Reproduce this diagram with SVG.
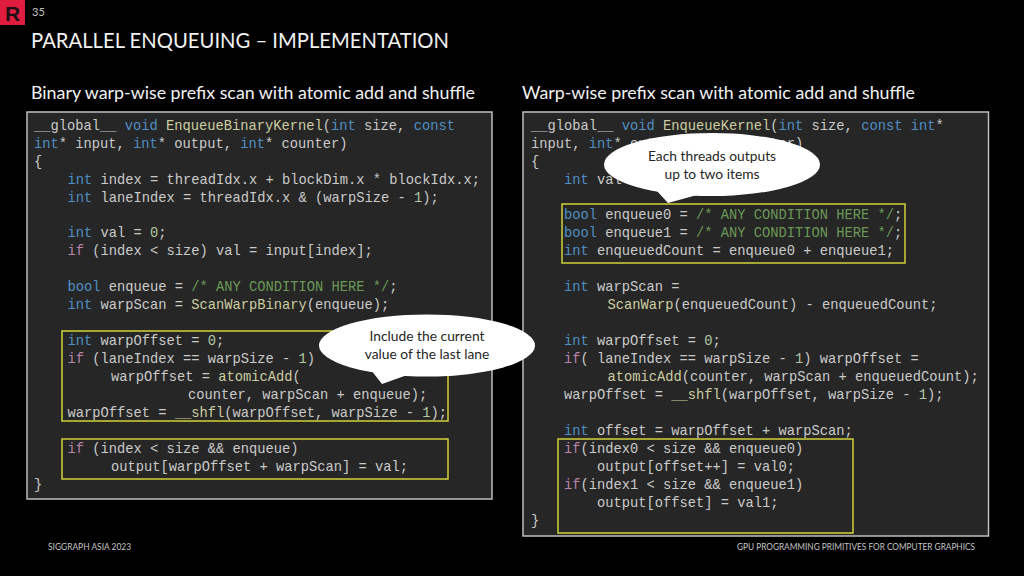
<svg xmlns="http://www.w3.org/2000/svg" width="1024" height="576" viewBox="0 0 1024 576">
<style>
.bg{fill:#000}
.panel{fill:#262626;stroke:#bfbfbf;stroke-width:1.5}
.hl{fill:none;stroke:#d2d238;stroke-width:1.5}
.callout{fill:#fff}
.ct{font-family:"Lato","Open Sans",sans-serif;font-size:13.8px;fill:#262626;text-anchor:middle}
.sans{font-family:"Lato","Open Sans",sans-serif;fill:#f2f2f2}
.dim{fill:#c4c4c4}
.code text{font-family:"Liberation Mono","DejaVu Sans Mono",monospace;font-size:13.75px;fill:#cacaca;white-space:pre}
.k{fill:#4f8fc4}.f{fill:#cdcda0}.c{fill:#6a9955}.p{fill:#b884ae}.n{fill:#b0c8a4}
</style>
<rect class="bg" width="1024" height="576"/>
<g id="logo"><rect x="0" y="0" width="25" height="25" fill="#e11d3f"/><text x="12.5" y="20.5" font-family="Liberation Sans" font-weight="bold" font-size="21" text-anchor="middle" fill="#1a1014">R</text></g>
<text id="page" class="sans dim" x="32" y="16" font-size="11">35</text>
<text id="title" class="sans" x="31" y="48" font-size="21" textLength="418" lengthAdjust="spacingAndGlyphs">PARALLEL ENQUEUING – IMPLEMENTATION</text>
<text id="sub-left" class="sans" x="31" y="98.500" font-size="17.5" textLength="444" lengthAdjust="spacingAndGlyphs">Binary warp-wise prefix scan with atomic add and shuffle</text>
<text id="sub-right" class="sans" x="522" y="98.500" font-size="17.5" textLength="393" lengthAdjust="spacingAndGlyphs">Warp-wise prefix scan with atomic add and shuffle</text>

<g id="panel-left">
<rect class="panel" x="27" y="112" width="465" height="387"/>
<g class="code" transform="translate(0,-0.600)">
<text x="34" y="131">__global__ <tspan class="k">void</tspan> <tspan class="f">EnqueueBinaryKernel</tspan>(<tspan class="k">int</tspan> size, <tspan class="k">const</tspan></text>
<text x="34" y="149"><tspan class="k">int</tspan>* input, <tspan class="k">int</tspan>* output, <tspan class="k">int</tspan>* counter)</text>
<text x="34" y="167">{</text>
<text x="67.5" y="185"><tspan class="k">int</tspan> index = threadIdx.x + blockDim.x * blockIdx.x;</text>
<text x="67.5" y="203"><tspan class="k">int</tspan> laneIndex = threadIdx.x &amp; (warpSize - <tspan class="n">1</tspan>);</text>
<text x="67.5" y="238"><tspan class="k">int</tspan> val = <tspan class="n">0</tspan>;</text>
<text x="67.5" y="256"><tspan class="p">if</tspan> (index &lt; size) val = input[index];</text>
<text x="67.5" y="292"><tspan class="k">bool</tspan> enqueue = <tspan class="c">/* ANY CONDITION HERE */</tspan>;</text>
<text x="67.5" y="310"><tspan class="k">int</tspan> warpScan = <tspan class="f">ScanWarpBinary</tspan>(enqueue);</text>
<text x="67.5" y="346"><tspan class="k">int</tspan> warpOffset = <tspan class="n">0</tspan>;</text>
<text x="67.5" y="364"><tspan class="p">if</tspan> (laneIndex == warpSize - <tspan class="n">1</tspan>)</text>
<text x="111" y="382">warpOffset = <tspan class="f">atomicAdd</tspan>(</text>
<text x="188" y="400">counter, warpScan + enqueue);</text>
<text x="67.5" y="418">warpOffset = <tspan class="f">__shfl</tspan>(warpOffset, warpSize - <tspan class="n">1</tspan>);</text>
<text x="67.5" y="454"><tspan class="p">if</tspan> (index &lt; size &amp;&amp; enqueue)</text>
<text x="111" y="472">output[warpOffset + warpScan] = val;</text>
<text x="34" y="490">}</text>
</g>
<rect class="hl" x="62" y="331" width="386" height="90"/>
<rect class="hl" x="62" y="439" width="386" height="40"/>
</g>

<g id="panel-right">
<rect class="panel" x="523" y="112" width="465.500" height="424"/>
<g class="code" transform="translate(-0.500,-0.600)">
<text x="531.500" y="131">__global__ <tspan class="k">void</tspan> <tspan class="f">EnqueueKernel</tspan>(<tspan class="k">int</tspan> size, <tspan class="k">const</tspan> <tspan class="k">int</tspan>*</text>
<text x="531.500" y="149">input, <tspan class="k">int</tspan>* output, <tspan class="k">int</tspan>* counter)</text>
<text x="531.500" y="167">{</text>
<text x="564.500" y="185"><tspan class="k">int</tspan> val</text>
<text x="564.500" y="220"><tspan class="k">bool</tspan> enqueue0 = <tspan class="c">/* ANY CONDITION HERE */</tspan>;</text>
<text x="564.500" y="238"><tspan class="k">bool</tspan> enqueue1 = <tspan class="c">/* ANY CONDITION HERE */</tspan>;</text>
<text x="564.500" y="256"><tspan class="k">int</tspan> enqueuedCount = enqueue0 + enqueue1;</text>
<text x="564.500" y="292"><tspan class="k">int</tspan> warpScan =</text>
<text x="608" y="310"><tspan class="f">ScanWarp</tspan>(enqueuedCount) - enqueuedCount;</text>
<text x="564.500" y="346"><tspan class="k">int</tspan> warpOffset = <tspan class="n">0</tspan>;</text>
<text x="564.500" y="364"><tspan class="p">if</tspan>( laneIndex == warpSize - <tspan class="n">1</tspan>) warpOffset =</text>
<text x="608" y="382"><tspan class="f">atomicAdd</tspan>(counter, warpScan + enqueuedCount);</text>
<text x="564.500" y="400">warpOffset = <tspan class="f">__shfl</tspan>(warpOffset, warpSize - <tspan class="n">1</tspan>);</text>
<text x="564.500" y="436"><tspan class="k">int</tspan> offset = warpOffset + warpScan;</text>
<text x="564.500" y="454"><tspan class="p">if</tspan>(index0 &lt; size &amp;&amp; enqueue0)</text>
<text x="597.500" y="472">output[offset++] = val0;</text>
<text x="564.500" y="490"><tspan class="p">if</tspan>(index1 &lt; size &amp;&amp; enqueue1)</text>
<text x="597.500" y="508">output[offset] = val1;</text>
<text x="531.500" y="526">}</text>
</g>
<rect class="hl" x="562" y="204" width="343" height="59"/>
<rect class="hl" x="558" y="439" width="295" height="94"/>
</g>

<g id="callout-right">
<ellipse class="callout" cx="712" cy="164.500" rx="108" ry="31.500"/>
<polygon class="callout" points="656,190 668,203 697,195"/>
<text class="ct" x="712" y="161">Each threads outputs</text>
<text class="ct" x="712" y="179">up to two items</text>
</g>
<g id="callout-left">
<ellipse class="callout" cx="427" cy="345.500" rx="108" ry="31"/>
<polygon class="callout" points="371,370 382,384 410,374"/>
<text class="ct" x="427" y="341">Include the current</text>
<text class="ct" x="427" y="359">value of the last lane</text>
</g>

<text id="footer-left" class="sans dim" x="48" y="550" font-size="9" textLength="83" lengthAdjust="spacingAndGlyphs">SIGGRAPH ASIA 2023</text>
<text id="footer-right" class="sans dim" x="737" y="550" font-size="9" textLength="238" lengthAdjust="spacingAndGlyphs">GPU PROGRAMMING PRIMITIVES FOR COMPUTER GRAPHICS</text>
<g id="connectors"/>
</svg>
